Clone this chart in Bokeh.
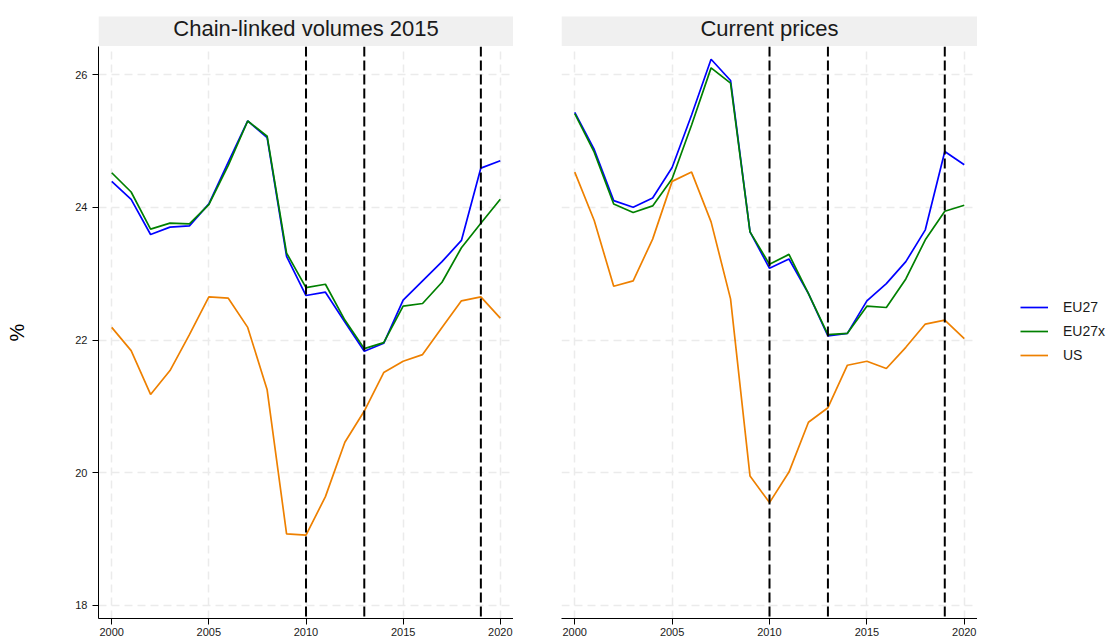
from bokeh.plotting import figure
from bokeh.layouts import row, column
from bokeh.models import Range1d, Span, Legend, LegendItem, FixedTicker, BoxAnnotation
from bokeh.core.properties import value
from bokeh.embed import file_html
from bokeh.resources import INLINE

FONT = "Liberation Sans"

years = list(range(2000, 2021))

panel_titles = ["Chain-linked volumes 2015", "Current prices"]
series_names = ["EU27", "EU27x", "US"]
series_colors = ["#0000ff", "#008000", "#ee8000"]

# Chain-linked volumes 2015
cl_eu27 = [24.39, 24.12, 23.59, 23.70, 23.72, 24.05, 24.68, 25.30, 25.05, 23.26, 22.67,
           22.72, 22.27, 21.83, 21.95, 22.60, 22.89, 23.18, 23.50, 24.59, 24.70]
cl_eu27x = [24.52, 24.23, 23.67, 23.76, 23.75, 24.04, 24.63, 25.30, 25.07, 23.31, 22.79,
            22.84, 22.30, 21.87, 21.96, 22.51, 22.55, 22.87, 23.39, 23.76, 24.12]
cl_us = [22.19, 21.84, 21.18, 21.54, 22.08, 22.65, 22.63, 22.19, 21.25, 19.08, 19.06,
         19.64, 20.46, 20.93, 21.51, 21.68, 21.78, 22.19, 22.59, 22.65, 22.33]

# Current prices
cp_eu27 = [25.43, 24.87, 24.10, 24.00, 24.14, 24.60, 25.39, 26.23, 25.91, 23.63, 23.08,
           23.22, 22.70, 22.06, 22.10, 22.59, 22.85, 23.18, 23.66, 24.84, 24.64]
cp_eu27x = [25.41, 24.83, 24.05, 23.92, 24.02, 24.43, 25.24, 26.10, 25.87, 23.63, 23.14,
            23.29, 22.70, 22.08, 22.10, 22.51, 22.49, 22.92, 23.51, 23.94, 24.03]
cp_us = [24.53, 23.80, 22.81, 22.89, 23.52, 24.39, 24.53, 23.78, 22.62, 19.95, 19.55,
         20.01, 20.76, 20.98, 21.62, 21.68, 21.57, 21.89, 22.24, 22.30, 22.02]

x_ticks = [2000, 2005, 2010, 2015, 2020]
y_ticks = [18, 20, 22, 24, 26]
v_lines = [2010, 2013, 2019]

X_RANGE = (1999.32, 2020.68)
Y_RANGE = (17.804, 26.422)

LEFT_BORDER = 98
GAP = 48
LEG_W = 133
FW_L = 415
FW_R = 416
STRIP_H = 46
FH = 572
MAIN_BOTTOM = 24
GRID_COLOR = "#ebebeb"
GRID_DASH = "8 5"


def make_strip(title, fw, left):
    s = figure(frame_width=fw, frame_height=STRIP_H, min_border_left=left,
               min_border_right=0, min_border_top=0, min_border_bottom=0,
               x_range=Range1d(0, 1), y_range=Range1d(0, STRIP_H),
               toolbar_location=None, output_backend="svg",
               x_axis_location=None, y_axis_location=None)
    s.grid.visible = False
    s.outline_line_color = None
    s.background_fill_color = "white"
    s.border_fill_color = "white"
    s.add_layout(BoxAnnotation(bottom=0, top=30, fill_color="#f0f0f0", fill_alpha=1,
                               line_color=None, level="underlay"))
    s.text(x=[0.5], y=[18], text=[title], text_align="center", text_baseline="alphabetic",
           text_font=value(FONT), text_font_size="22px", text_color="#1a1a1a")
    return s


def make_main(series, fw, left, show_y):
    p = figure(frame_width=fw, frame_height=FH, min_border_left=left,
               min_border_right=0, min_border_top=0, min_border_bottom=MAIN_BOTTOM,
               x_range=Range1d(*X_RANGE), y_range=Range1d(*Y_RANGE),
               toolbar_location=None, output_backend="svg")
    p.outline_line_color = None
    p.background_fill_color = "white"
    p.border_fill_color = "white"

    p.xaxis.ticker = FixedTicker(ticks=x_ticks)
    p.xaxis.minor_tick_line_color = None
    p.xaxis.major_tick_out = 6
    p.xaxis.major_tick_in = 0
    p.xaxis.major_label_standoff = 3
    p.xaxis.major_label_text_font = FONT
    p.xaxis.major_label_text_font_size = "11px"
    p.xaxis.major_label_text_color = "#1a1a1a"
    p.xaxis.axis_line_color = "black"
    p.xaxis.major_tick_line_color = "black"

    p.xgrid.ticker = FixedTicker(ticks=x_ticks)
    p.ygrid.ticker = FixedTicker(ticks=y_ticks)
    for g in (p.xgrid, p.ygrid):
        g.grid_line_color = GRID_COLOR
        g.grid_line_width = 1.5
        g.grid_line_dash = GRID_DASH

    p.yaxis.ticker = FixedTicker(ticks=y_ticks)
    if show_y:
        p.yaxis.minor_tick_line_color = None
        p.yaxis.major_tick_out = 6
        p.yaxis.major_tick_in = 0
        p.yaxis.major_label_standoff = 5
        p.yaxis.major_label_text_font = FONT
        p.yaxis.major_label_text_font_size = "11px"
        p.yaxis.major_label_text_color = "#1a1a1a"
        p.yaxis.axis_line_color = "black"
        p.yaxis.major_tick_line_color = "black"
        p.yaxis.axis_label = "%"
        p.yaxis.axis_label_text_font = FONT
        p.yaxis.axis_label_text_font_size = "20px"
        p.yaxis.axis_label_text_font_style = "normal"
        p.yaxis.axis_label_text_color = "black"
        p.yaxis.axis_label_standoff = 44
    else:
        p.yaxis.visible = False

    for name, vals, col in zip(series_names, series, series_colors):
        p.line(years, vals, line_color=col, line_width=1.7)

    for v in v_lines:
        p.add_layout(Span(location=v, dimension="height", line_color="black",
                          line_width=2, line_dash="10 4"))
    return p


s1 = make_strip(panel_titles[0], FW_L, LEFT_BORDER)
s2 = make_strip(panel_titles[1], FW_R, GAP)
p1 = make_main([cl_eu27, cl_eu27x, cl_us], FW_L, LEFT_BORDER, True)
p2 = make_main([cp_eu27, cp_eu27x, cp_us], FW_R, GAP, False)

# legend area to the right of the second panel; its key lines carry the
# series data but lie outside this area's range, so only the legend shows
lg = figure(frame_width=LEG_W, frame_height=FH, min_border_left=0, min_border_right=0,
            min_border_top=0, min_border_bottom=MAIN_BOTTOM,
            x_range=Range1d(0, 1), y_range=Range1d(0, 1),
            toolbar_location=None, output_backend="svg",
            x_axis_location=None, y_axis_location=None)
lg.grid.visible = False
lg.outline_line_color = None
lg.background_fill_color = "white"
lg.border_fill_color = "white"
items = []
for name, vals, col in zip(series_names, [cp_eu27, cp_eu27x, cp_us], series_colors):
    r = lg.line(years, vals, line_color=col, line_width=1.7)
    items.append(LegendItem(label=name, renderers=[r]))

legend = Legend(items=items, location=(43, 253), orientation="vertical",
                label_text_font=FONT, label_text_font_size="14px",
                label_text_color="#1a1a1a",
                glyph_width=28, glyph_height=20, label_height=20, spacing=4,
                label_standoff=15, padding=5, margin=0,
                border_line_color=None, background_fill_alpha=0)
lg.add_layout(legend)

layout = column(row(s1, s2), row(p1, p2, lg))

open("out.html", "w").write(file_html(layout, INLINE))
